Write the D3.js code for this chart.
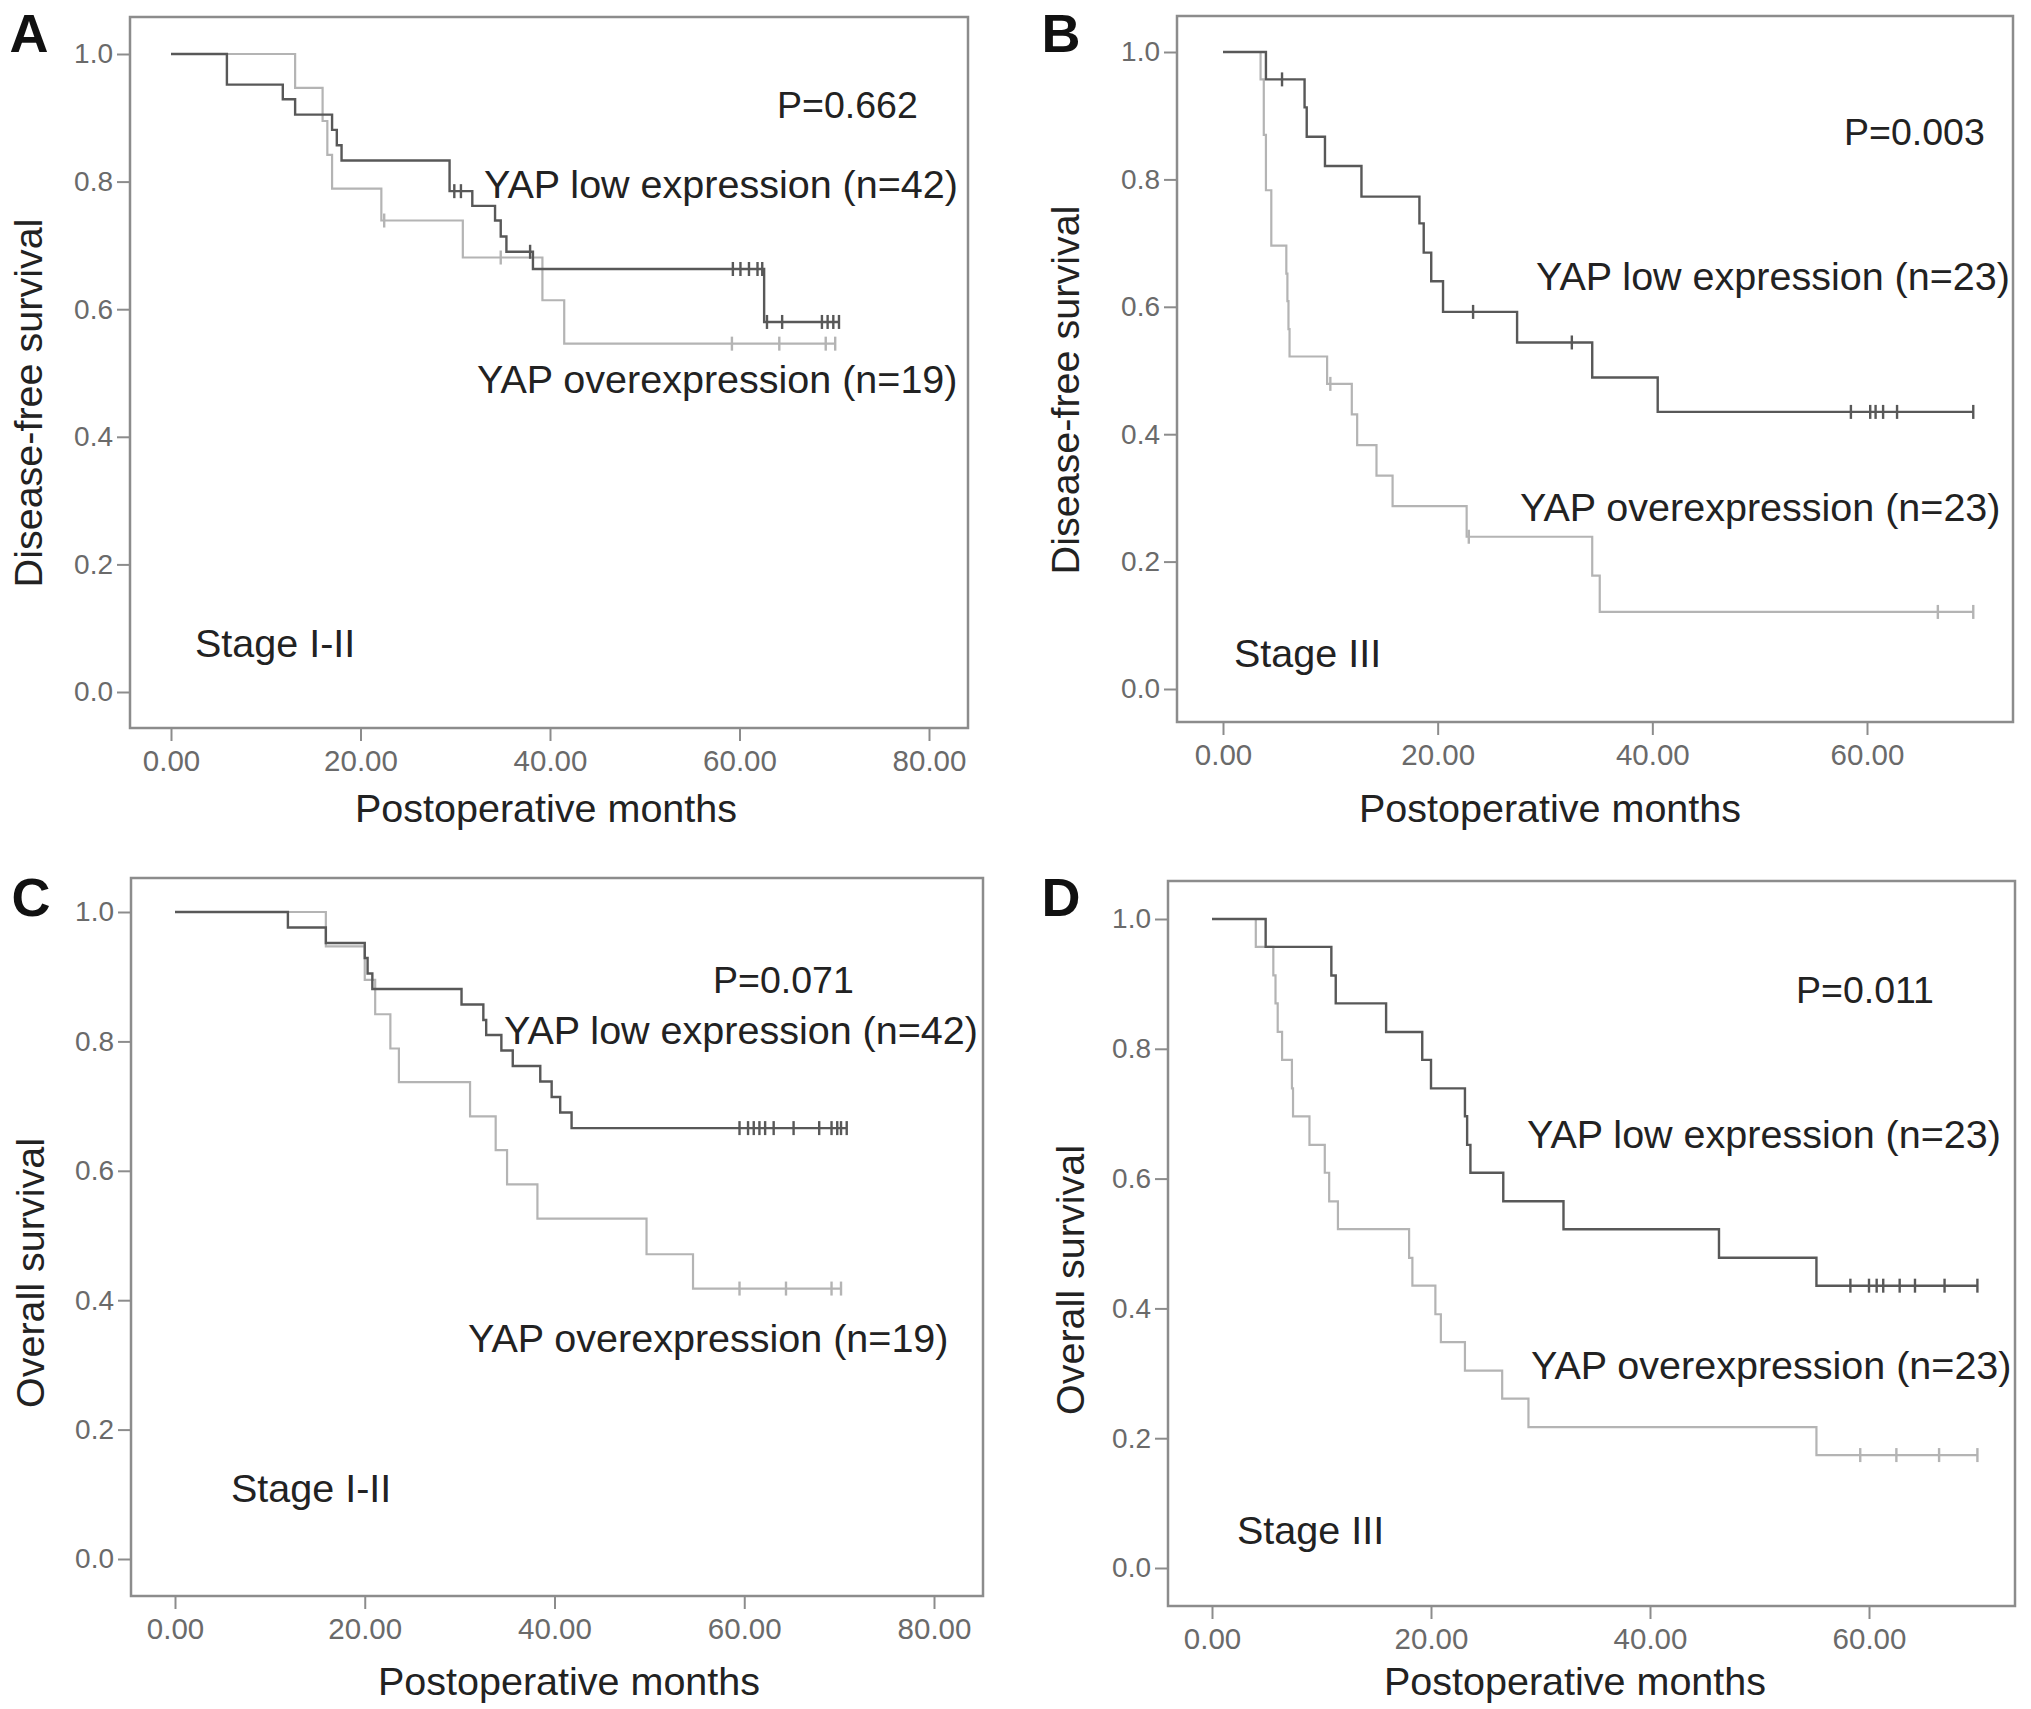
<!DOCTYPE html>
<html>
<head>
<meta charset="utf-8">
<script src="https://cdn.jsdelivr.net/npm/d3@7"></script>
<style>
  body { margin: 0; background: #fff; }
  text { font-family: "Liberation Sans", Arial, sans-serif; }
</style>
</head>
<body>
<svg id="chart"></svg>
<script>
// tick values
const survTicks = [0, 0.2, 0.4, 0.6, 0.8, 1.0];
const monthTicks80 = [0, 20, 40, 60, 80];
const monthTicks60 = [0, 20, 40, 60];

// A: disease-free survival, stage I-II
const aLowTime = [5.9, 11.8, 13.1, 17.0, 17.5, 18.0, 29.4, 31.8, 34.2, 34.8, 35.4, 38.2, 62.6];
const aLowSurv = [0.952, 0.929, 0.905, 0.881, 0.857, 0.833, 0.785, 0.762, 0.739, 0.714, 0.690, 0.663, 0.580];
const aLowCens = [29.9, 30.6, 37.9, 59.3, 60.1, 61.0, 61.9, 62.4, 62.9, 64.5, 68.7, 69.3, 69.9, 70.5];
const aOverTime = [13.1, 16.0, 16.5, 17.0, 22.2, 30.8, 39.2, 41.5];
const aOverSurv = [0.947, 0.895, 0.842, 0.789, 0.739, 0.681, 0.614, 0.546];
const aOverCens = [22.5, 34.8, 59.2, 64.2, 69.1, 70.1];

// B: disease-free survival, stage III
const bLowTime = [4.0, 7.6, 7.8, 9.5, 12.9, 18.3, 18.7, 19.4, 20.5, 27.4, 34.4, 40.5];
const bLowSurv = [0.957, 0.913, 0.867, 0.821, 0.773, 0.731, 0.685, 0.640, 0.592, 0.544, 0.489, 0.435];
const bLowCens = [5.5, 23.3, 32.5, 58.5, 60.3, 60.8, 61.5, 62.8, 69.9];
const bOverTime = [3.5, 3.8, 4.0, 4.5, 5.9, 6.0, 6.1, 6.2, 9.7, 12.0, 12.5, 14.3, 15.8, 22.7, 34.4, 35.1];
const bOverSurv = [0.957, 0.870, 0.783, 0.696, 0.652, 0.609, 0.565, 0.522, 0.479, 0.431, 0.383, 0.335, 0.287, 0.239, 0.178, 0.121];
const bOverCens = [10.0, 22.9, 66.6, 69.9];

// C: overall survival, stage I-II
const cLowTime = [11.9, 15.9, 20.0, 20.3, 20.8, 30.2, 32.5, 32.8, 34.4, 35.6, 38.5, 39.7, 40.6, 41.8];
const cLowSurv = [0.976, 0.952, 0.929, 0.905, 0.881, 0.857, 0.833, 0.810, 0.786, 0.762, 0.738, 0.714, 0.690, 0.666];
const cLowCens = [59.5, 60.4, 61.0, 61.6, 62.2, 63.1, 65.2, 67.9, 69.2, 69.8, 70.2, 70.8];
const cOverTime = [15.9, 20.0, 21.1, 22.7, 23.6, 31.1, 33.8, 35.0, 38.2, 49.7, 54.6];
const cOverSurv = [0.947, 0.895, 0.842, 0.789, 0.737, 0.684, 0.632, 0.579, 0.526, 0.471, 0.418];
const cOverCens = [59.5, 64.4, 69.2, 70.2];

// D: overall survival, stage III
const dLowTime = [4.9, 10.9, 11.3, 15.9, 19.2, 20.0, 23.1, 23.3, 23.6, 26.6, 32.1, 46.3, 55.2];
const dLowSurv = [0.957, 0.913, 0.870, 0.826, 0.783, 0.739, 0.696, 0.652, 0.609, 0.565, 0.522, 0.478, 0.435];
const dLowCens = [58.3, 60.0, 60.7, 61.3, 62.8, 64.2, 66.9, 69.9];
const dOverTime = [4.0, 5.6, 5.8, 6.0, 6.4, 7.3, 7.4, 8.9, 10.3, 10.7, 11.5, 18.0, 18.3, 20.4, 20.9, 23.1, 26.5, 28.9, 55.2];
const dOverSurv = [0.957, 0.913, 0.870, 0.826, 0.783, 0.739, 0.696, 0.652, 0.609, 0.565, 0.522, 0.478, 0.435, 0.391, 0.348, 0.304, 0.261, 0.217, 0.174];
const dOverCens = [59.2, 62.5, 66.4, 69.9];

const panelLetters = ["A", "B", "C", "D"];
const yTitles = ["Disease-free survival", "Disease-free survival", "Overall survival", "Overall survival"];
const pValues = ["P=0.662", "P=0.003", "P=0.071", "P=0.011"];
const lowLabels = ["YAP low expression (n=42)", "YAP low expression (n=23)", "YAP low expression (n=42)", "YAP low expression (n=23)"];
const overLabels = ["YAP overexpression (n=19)", "YAP overexpression (n=23)", "YAP overexpression (n=19)", "YAP overexpression (n=23)"];
const stageLabels = ["Stage I-II", "Stage III", "Stage I-II", "Stage III"];
const xTitle = "Postoperative months";

const W = 2031, H = 1709;
const svg = d3.select("#chart").attr("width", W).attr("height", H);
svg.append("rect").attr("width", W).attr("height", H).attr("fill", "#fff");

// layout of each panel (pixels)
var panels = [
  { left: 130, right: 968, top: 17, bottom: 728, x0: 171, x1: 929, xMax: 80, xt: monthTicks80, y1: 54, y0: 692,
    letter: [29, 52], yt: [29, 403], xtPos: [546, 822], pPos: [777, 118], lowPos: [484, 198], overPos: [477, 393], stagePos: [195, 657],
    low: [aLowTime, aLowSurv, aLowCens], over: [aOverTime, aOverSurv, aOverCens] },
  { left: 1177, right: 2013, top: 16, bottom: 722, x0: 1223, x1: 1867, xMax: 60, xt: monthTicks60, y1: 52, y0: 689,
    letter: [1061, 52], yt: [1066, 390], xtPos: [1550, 822], pPos: [1844, 145], lowPos: [1536, 290], overPos: [1520, 521], stagePos: [1234, 667],
    low: [bLowTime, bLowSurv, bLowCens], over: [bOverTime, bOverSurv, bOverCens] },
  { left: 131, right: 983, top: 878, bottom: 1596, x0: 175, x1: 934, xMax: 80, xt: monthTicks80, y1: 912, y0: 1559,
    letter: [31, 916], yt: [31, 1273], xtPos: [569, 1695], pPos: [713, 993], lowPos: [504, 1044], overPos: [468, 1352], stagePos: [231, 1502],
    low: [cLowTime, cLowSurv, cLowCens], over: [cOverTime, cOverSurv, cOverCens] },
  { left: 1168, right: 2015, top: 881, bottom: 1606, x0: 1212, x1: 1869, xMax: 60, xt: monthTicks60, y1: 919, y0: 1568,
    letter: [1061, 916], yt: [1071, 1280], xtPos: [1575, 1695], pPos: [1796, 1003], lowPos: [1527, 1148], overPos: [1531, 1379], stagePos: [1237, 1544],
    low: [dLowTime, dLowSurv, dLowCens], over: [dOverTime, dOverSurv, dOverCens] }
];

function survAt(times, surv, t) {
    var s = 1;
    for (let i = 0; i < times.length; i++) {
        if (times[i] <= t) s = surv[i];
    }
    return s;
}

function drawCurve(g, x, y, series, color, width) {
    var times = series[0], surv = series[1], cens = series[2];
    var end = Math.max(d3.max(times), d3.max(cens));
    var pts = [[0, 1]];
    times.forEach((t, i) => pts.push([t, surv[i]]));
    pts.push([end, surv[surv.length - 1]]);

    var line = d3.line()
        .x(d => x(d[0]))
        .y(d => y(d[1]))
        .curve(d3.curveStepAfter);
    g.append("path")
        .attr("d", line(pts))
        .attr("fill", "none")
        .attr("stroke", color)
        .attr("stroke-width", width);

    // censor marks
    g.selectAll()
        .data(cens)
        .enter()
        .append("line")
        .attr("x1", d => x(d))
        .attr("x2", d => x(d))
        .attr("y1", d => y(survAt(times, surv, d)) - 7)
        .attr("y2", d => y(survAt(times, surv, d)) + 7)
        .attr("stroke", color)
        .attr("stroke-width", 2.4);
}

panels.forEach(function(p, k) {
    var g = svg.append("g");
    var x = d3.scaleLinear().domain([0, p.xMax]).range([p.x0, p.x1]);
    var y = d3.scaleLinear().domain([0, 1]).range([p.y0, p.y1]);

    // frame
    g.append("rect")
        .attr("x", p.left).attr("y", p.top)
        .attr("width", p.right - p.left).attr("height", p.bottom - p.top)
        .attr("fill", "none").attr("stroke", "#8c8c8c").attr("stroke-width", 2.5);

    var yAxis = g.append("g")
        .attr("transform", `translate(${p.left}, 0)`)
        .call(d3.axisLeft(y).tickValues(survTicks).tickFormat(d3.format(".1f")).tickSize(13).tickPadding(4));
    var xAxis = g.append("g")
        .attr("transform", `translate(0, ${p.bottom})`)
        .call(d3.axisBottom(x).tickValues(p.xt).tickFormat(d3.format(".2f")).tickSize(13).tickPadding(9));
    yAxis.selectAll(".tick text").attr("font-size", 28);
    xAxis.selectAll(".tick text").attr("font-size", 29.5);
    [yAxis, xAxis].forEach(a => {
        a.select(".domain").remove();
        a.selectAll(".tick line").attr("stroke", "#8c8c8c").attr("stroke-width", 2);
        a.selectAll(".tick text").attr("fill", "#6a6a6a")
            .attr("font-family", "'Liberation Sans', Arial, sans-serif");
    });

    drawCurve(g, x, y, p.over, "#b4b4b4", 2.2);
    drawCurve(g, x, y, p.low, "#585858", 2.4);

    // texts
    g.append("text").text(panelLetters[k])
        .attr("x", p.letter[0]).attr("y", p.letter[1])
        .attr("text-anchor", "middle").attr("font-size", 54).attr("font-weight", "bold").attr("fill", "#111");
    g.append("text").text(yTitles[k])
        .attr("transform", `translate(${p.yt[0] + 13}, ${p.yt[1]}) rotate(-90)`)
        .attr("text-anchor", "middle").attr("font-size", 39.5).attr("fill", "#222");
    g.append("text").text(xTitle)
        .attr("x", p.xtPos[0]).attr("y", p.xtPos[1])
        .attr("text-anchor", "middle").attr("font-size", 39.5).attr("fill", "#222");
    g.append("text").text(pValues[k])
        .attr("x", p.pPos[0]).attr("y", p.pPos[1]).attr("font-size", 37.5).attr("fill", "#222");
    g.append("text").text(lowLabels[k])
        .attr("x", p.lowPos[0]).attr("y", p.lowPos[1]).attr("font-size", 39.5).attr("fill", "#222");
    g.append("text").text(overLabels[k])
        .attr("x", p.overPos[0]).attr("y", p.overPos[1]).attr("font-size", 39.5).attr("fill", "#222");
    g.append("text").text(stageLabels[k])
        .attr("x", p.stagePos[0]).attr("y", p.stagePos[1]).attr("font-size", 39.5).attr("fill", "#222");
});
</script>
</body>
</html>
